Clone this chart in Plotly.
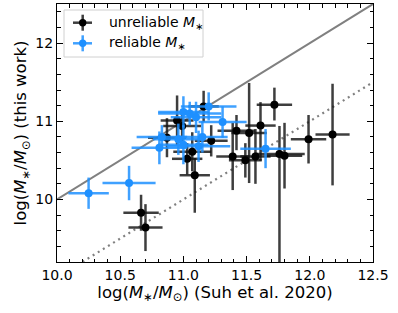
import plotly.graph_objects as go

# unreliable M* (black)
k_x = [10.665, 10.70, 11.09, 11.16, 10.95, 10.99, 10.87, 11.22, 11.07, 11.03, 11.39, 11.42,
       11.52, 11.61, 11.72, 11.49, 11.57, 11.76, 11.80, 11.99, 12.18]
k_y = [9.83, 9.64, 10.31, 11.19, 11.01, 10.94, 10.79, 10.75, 10.61, 10.52, 10.55, 10.88,
       10.85, 10.945, 11.21, 10.50, 10.55, 10.58, 10.56, 10.77, 10.83]
k_xerr = [0.14, 0.135, 0.12, 0.12, 0.13, 0.15, 0.15, 0.13, 0.15, 0.12, 0.13, 0.15,
          0.14, 0.12, 0.14, 0.13, 0.12, 0.20, 0.14, 0.14, 0.135]
k_yerr_up = [0.23, 0.30, 0.22, 0.20, 0.32, 0.20, 0.25, 0.20, 0.25, 0.20, 0.43, 0.20,
             0.64, 0.30, 0.22, 0.22, 0.35, 0.36, 0.42, 0.31, 0.65]
k_yerr_dn = [0.23, 0.30, 0.48, 0.20, 0.32, 0.20, 0.25, 0.20, 0.25, 0.20, 0.43, 0.25,
             0.64, 0.45, 0.20, 0.22, 0.35, 1.50, 0.42, 0.31, 0.65]

# reliable M* (blue)
b_x = [10.25, 10.57, 10.83, 10.81, 10.96, 11.00, 11.05, 11.10, 11.20, 11.31, 11.12, 11.65,
       11.00, 11.15]
b_y = [10.08, 10.21, 10.80, 10.66, 10.77, 11.12, 11.10, 11.05, 11.19, 10.99, 10.68, 10.65,
       10.70, 10.80]
b_xerr = [0.16, 0.21, 0.20, 0.22, 0.20, 0.20, 0.25, 0.20, 0.22, 0.19, 0.25, 0.20, 0.20, 0.20]
b_yerr = [0.20, 0.22, 0.15, 0.21, 0.20, 0.20, 0.15, 0.20, 0.18, 0.20, 0.20, 0.25, 0.25, 0.20]

line_x = [10.0, 12.5]
offset = 1.0

x_range = [10.0, 12.5]
y_range = [9.2, 12.5]

FONT = "DejaVu Sans"
BLACK_LINE = "rgba(20,20,20,0.82)"
BLUE = "#1E90FF"
BLUE_LINE = "rgba(30,144,255,0.85)"

fig = go.Figure()

fig.add_trace(go.Scatter(x=line_x, y=line_x, mode="lines",
                         line=dict(color="#808080", width=2), showlegend=False, hoverinfo="skip"))
fig.add_trace(go.Scatter(x=line_x, y=[v - offset for v in line_x], mode="lines",
                         line=dict(color="#808080", width=2.2, dash="2px,4px"), showlegend=False,
                         hoverinfo="skip"))

fig.add_trace(go.Scatter(
    x=k_x, y=k_y, mode="markers",
    marker=dict(color="black", size=8),
    error_x=dict(type="data", array=k_xerr, color=BLACK_LINE, thickness=2.5, width=0),
    error_y=dict(type="data", array=k_yerr_up, arrayminus=k_yerr_dn, symmetric=False,
                 color=BLACK_LINE, thickness=2.5, width=0),
    showlegend=False))

fig.add_trace(go.Scatter(
    x=b_x, y=b_y, mode="markers",
    marker=dict(color=BLUE, size=8),
    error_x=dict(type="data", array=b_xerr, color=BLUE_LINE, thickness=2.5, width=0),
    error_y=dict(type="data", array=b_yerr, color=BLUE_LINE, thickness=2.5, width=0),
    showlegend=False))

# manual legend (matplotlib style)
W, H = 398, 313
pl, pr, pt, pb = 57, 25, 4, 51
pw, ph = W - pl - pr, H - pt - pb

def px(xp):
    return (xp - pl) / pw

def py(yp):
    return 1 - (yp - pt) / ph

shapes = [dict(type="rect", xref="paper", yref="paper",
               x0=px(64), x1=px(203), y0=py(57), y1=py(10),
               line=dict(color="#d0d0d0", width=1), fillcolor="rgba(255,255,255,0.8)",
               layer="above")]
for yy, col, lc in [(22.7, "black", BLACK_LINE), (43.3, BLUE, BLUE_LINE)]:
    shapes.append(dict(type="line", xref="paper", yref="paper", x0=px(73), x1=px(92),
                       y0=py(yy), y1=py(yy), line=dict(color=lc, width=2.5), layer="above"))
    shapes.append(dict(type="line", xref="paper", yref="paper", x0=px(82.7), x1=px(82.7),
                       y0=py(yy - 8), y1=py(yy + 8), line=dict(color=lc, width=2.5), layer="above"))
    shapes.append(dict(type="circle", xref="paper", yref="paper", x0=px(79), x1=px(86.4),
                       y0=py(yy + 3.7), y1=py(yy - 3.7), line=dict(color=col, width=0),
                       fillcolor=col, layer="above"))

annotations = [
    dict(text="unreliable <i>M</i><sub>∗</sub>", xref="paper", yref="paper", x=px(107), y=py(22.7),
         xanchor="left", yanchor="middle", showarrow=False, font=dict(family=FONT, size=14, color="black")),
    dict(text="reliable <i>M</i><sub>∗</sub>", xref="paper", yref="paper", x=px(107), y=py(43.3),
         xanchor="left", yanchor="middle", showarrow=False, font=dict(family=FONT, size=14, color="black")),
]

axis_common = dict(showgrid=False, zeroline=False, showline=True, linecolor="black", linewidth=1,
                   mirror="allticks", ticks="inside", ticklen=6, tickwidth=1, tickcolor="black",
                   automargin=False,
                   tickfont=dict(family=FONT, size=14, color="black"))

fig.update_layout(
    width=W, height=H,
    margin=dict(l=pl, r=pr, t=pt, b=pb),
    paper_bgcolor="white", plot_bgcolor="white",
    font=dict(family=FONT, size=14, color="black"),
    shapes=shapes, annotations=annotations,
    xaxis=dict(range=x_range, tickmode="linear", tick0=10.0, dtick=0.5, tickformat=".1f",
               minor=dict(ticks="inside", ticklen=3.5, dtick=0.1, tick0=10.0, tickcolor="black"),
               title=dict(text="log(<i>M</i><sub>∗</sub>/<i>M</i><sub>⊙</sub>) (Suh et al. 2020)",
                          font=dict(family=FONT, size=16.5), standoff=2),
               **axis_common),
    yaxis=dict(range=y_range, tickmode="linear", tick0=10, dtick=1,
               minor=dict(ticks="inside", ticklen=3.5, dtick=0.2, tick0=10, tickcolor="black"),
               title=dict(text="log(<i>M</i><sub>∗</sub>/<i>M</i><sub>⊙</sub>) (this work)",
                          font=dict(family=FONT, size=16.5), standoff=4),
               **axis_common),
)

fig.write_html("out.html",
               config={"displayModeBar": False, "staticPlot": True},
               post_script="document.body.style.margin='0';document.body.style.padding='0';")
